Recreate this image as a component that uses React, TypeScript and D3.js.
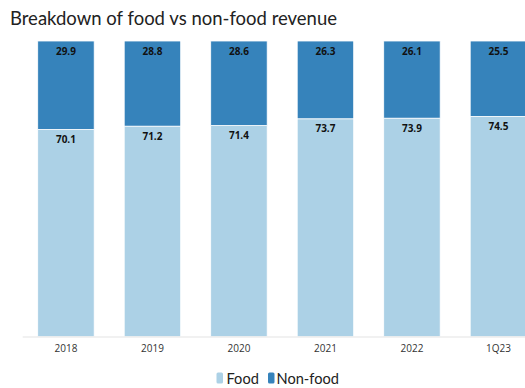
import React from "react";
import * as d3 from "d3";

const categories = ["2018", "2019", "2020", "2021", "2022", "1Q23"];
const foodValues = [70.1, 71.2, 71.4, 73.7, 73.9, 74.5];
const nonFoodValues = [29.9, 28.8, 28.6, 26.3, 26.1, 25.5];
const seriesNames = ["Food", "Non-food"];
const seriesColors = ["#acd1e6", "#3683bb"];

const W = 525;
const H = 388;

export default function App() {
  const x = d3
    .scaleBand<string>()
    .domain(categories)
    .range([22.7, 541.7])
    .paddingInner(0.347)
    .paddingOuter(0.1735);
  const y = d3.scaleLinear().domain([0, 100]).range([336.7, 41]);

  const rows = categories.map((c, i) => ({ cat: c, food: foodValues[i], nonfood: nonFoodValues[i] }));
  const stack = d3.stack<any>().keys(["food", "nonfood"]);
  const layers = stack(rows);

  return (
    <svg
      width={W}
      height={H}
      style={{ position: "absolute", left: 0, top: 0, overflow: "hidden" }}
      fontFamily="'Open Sans', 'Noto Sans', sans-serif"
    >
      <rect width={W} height={H} fill="#fff" />
      <text x={10} y={25} fontSize={18.5} fill="#222" fontFamily="Lato, sans-serif">
        Breakdown of food vs non-food revenue
      </text>
      {layers.map((layer, li) =>
        layer.map((d, i) => {
          const x0 = x(categories[i])!;
          const yTop = y(d[1]);
          const yBot = y(d[0]);
          const val = li === 0 ? foodValues[i] : nonFoodValues[i];
          return (
            <g key={`${li}-${i}`}>
              <rect
                x={x0}
                y={yTop}
                width={x.bandwidth()}
                height={yBot - yTop}
                fill={seriesColors[li]}
                stroke="#fff"
                strokeWidth={0.8}
              />
              <text
                x={x0 + x.bandwidth() / 2}
                y={yTop + 13.5}
                textAnchor="middle"
                fontSize={10}
                fontWeight="bold"
                fill="#111"
              >
                {val.toFixed(1)}
              </text>
            </g>
          );
        })
      )}
      <line x1={22.7} x2={W} y1={337} y2={337} stroke="#e3e3e3" strokeWidth={1} />
      {categories.map((c) => (
        <text
          key={c}
          x={x(c)! + x.bandwidth() / 2}
          y={352}
          textAnchor="middle"
          fontSize={10}
          fill="#333"
        >
          {c}
        </text>
      ))}
      <g fontFamily="Lato, sans-serif">
        <rect x={216.5} y={372.5} width={6.5} height={11} rx={1.5} fill={seriesColors[0]} />
        <text x={226.5} y={383.5} fontSize={14.6} fill="#222">
          {seriesNames[0]}
        </text>
        <rect x={268} y={372.5} width={6.5} height={11} rx={1.5} fill={seriesColors[1]} />
        <text x={276.5} y={383.5} fontSize={14.6} fill="#222">
          {seriesNames[1]}
        </text>
      </g>
    </svg>
  );
}
